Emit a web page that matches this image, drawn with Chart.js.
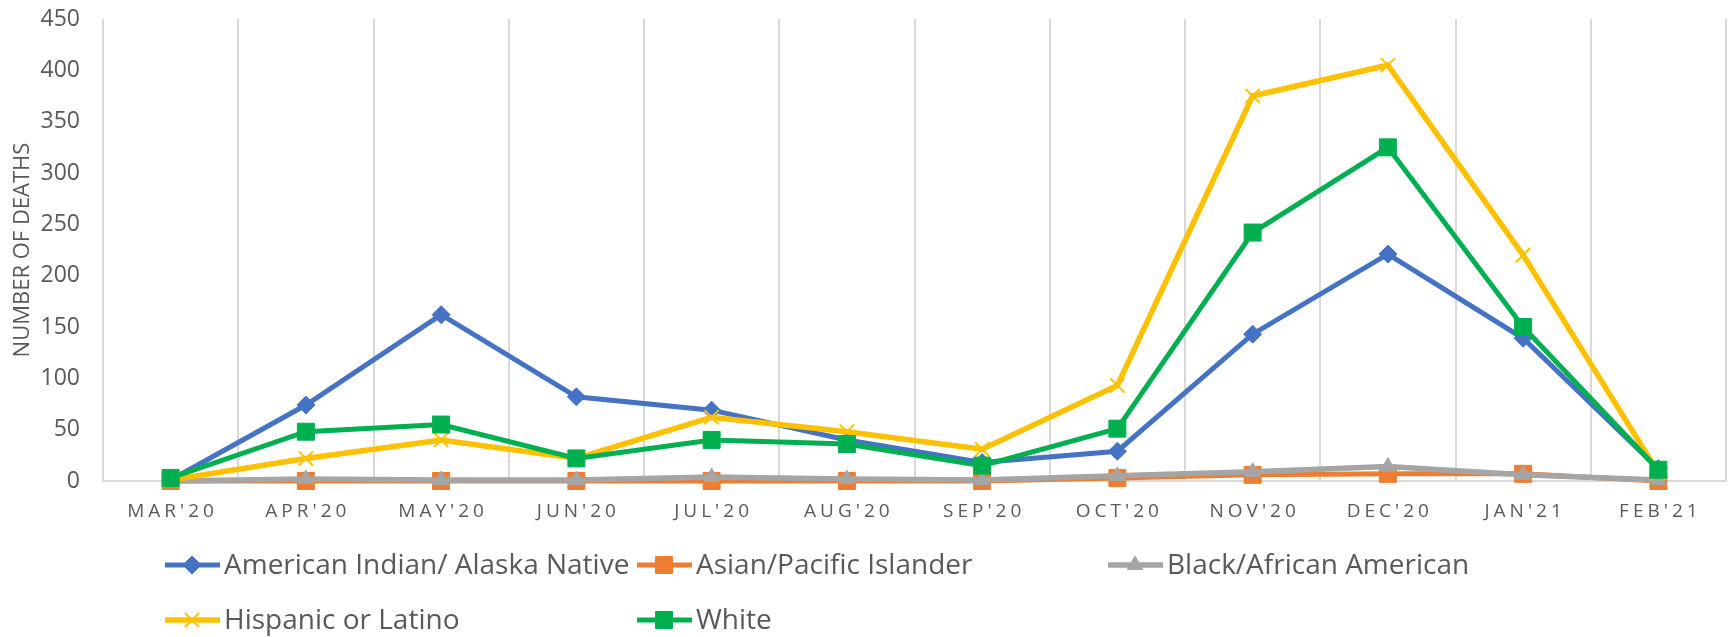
<!DOCTYPE html>
<html>
<head>
<meta charset="utf-8">
<title>Number of deaths by race/ethnicity</title>
<script src="https://cdn.jsdelivr.net/npm/chart.js@4/dist/chart.umd.min.js"></script>
<style>
  html, body { margin: 0; padding: 0; background: #fff; }
  #wrap { width: 1731px; height: 637px; }
</style>
</head>
<body>
<div id="wrap"><canvas id="deathsChart" width="1731" height="637"></canvas></div>
<script>
const months = ["MAR'20", "APR'20", "MAY'20", "JUN'20", "JUL'20", "AUG'20", "SEP'20", "OCT'20", "NOV'20", "DEC'20", "JAN'21", "FEB'21"];

const americanIndian = [1, 74, 162, 82, 69, 40, 18, 29, 143, 221, 139, 12];
const asianPacific = [0, 0, 0, 0, 0, 0, 0, 3, 6, 7, 7, 0];
const blackAfrican = [0, 2, 1, 1, 4, 2, 1, 5, 9, 14, 6, 1];
const hispanic = [1, 22, 40, 22, 62, 48, 31, 93, 375, 405, 220, 8];
const white = [3, 48, 55, 22, 40, 36, 15, 51, 242, 325, 150, 11];

const yTicks = [0, 50, 100, 150, 200, 250, 300, 350, 400, 450];

const FONT = "'Open Sans', 'Noto Sans', sans-serif";
const TEXT = '#595959';
const GRID = '#d9d9d9';

// legend slots like Excel: fixed columns, two rows
const legendSlots = [
  { x: 165, y: 565 },
  { x: 637, y: 565 },
  { x: 1108, y: 565 },
  { x: 165, y: 620 },
  { x: 637, y: 620 },
];

function series(label, data, color, style, radius, width, order) {
  return {
    label: label,
    data: data,
    borderColor: color,
    backgroundColor: color,
    borderWidth: width,
    pointStyle: style,
    pointRadius: radius,
    pointBorderWidth: style === 'crossRot' ? 2 : 1,
    pointBorderColor: color,
    pointBackgroundColor: color,
    tension: 0,
    clip: false,
    order: order,
  };
}

// x labels are letter-spaced in the original
const spacedLabels = {
  id: 'spacedLabels',
  afterUpdate(chart) {
    const sc = chart.scales.x;
    if (!sc || sc._spaced) return;
    const orig = sc.drawLabels.bind(sc);
    sc.drawLabels = function (area) {
      const c = this.ctx;
      c.save();
      c.letterSpacing = '4px';
      c.translate(2, 0);
      orig(area);
      c.restore();
    };
    sc._spaced = true;
  },
};

const gridLegend = {
  id: 'gridLegend',
  afterDraw(chart) {
    const c = chart.ctx;
    chart.data.datasets.forEach((ds, i) => {
      const slot = legendSlots[i];
      if (!slot) return;
      c.save();
      c.strokeStyle = ds.borderColor;
      c.lineWidth = ds.borderWidth;
      c.beginPath();
      c.moveTo(slot.x, slot.y);
      c.lineTo(slot.x + 55, slot.y);
      c.stroke();
      c.fillStyle = ds.backgroundColor;
      c.strokeStyle = ds.borderColor;
      c.lineWidth = ds.pointBorderWidth;
      Chart.helpers.drawPoint(c, {
        pointStyle: ds.pointStyle,
        radius: ds.pointRadius,
        borderWidth: ds.pointBorderWidth,
        rotation: 0,
      }, slot.x + 27, slot.y);
      c.fillStyle = TEXT;
      c.font = '28px ' + FONT;
      c.textAlign = 'left';
      c.textBaseline = 'middle';
      c.fillText(ds.label, slot.x + 59, slot.y + 1);
      c.restore();
    });
  },
};

new Chart(document.getElementById('deathsChart'), {
  type: 'line',
  data: {
    labels: months,
    datasets: [
      series('American Indian/ Alaska Native', americanIndian, '#4472C4', 'rectRot', 9, 5, 5),
      series('Asian/Pacific Islander', asianPacific, '#ED7D31', 'rect', 12, 5, 4),
      series('Black/African American', blackAfrican, '#A5A5A5', 'triangle', 9, 5.5, 3),
      series('Hispanic or Latino', hispanic, '#FFC000', 'crossRot', 10, 5.5, 2),
      series('White', white, '#00B050', 'rect', 12, 5, 1),
    ],
  },
  options: {
    responsive: false,
    animation: false,
    layout: { autoPadding: false, padding: { top: 19, right: 5, bottom: 106, left: 0 } },
    plugins: {
      legend: { display: false },
      tooltip: { enabled: false },
    },
    scales: {
      x: {
        offset: true,
        grid: { display: true, offset: true, color: GRID, lineWidth: 2, drawTicks: false },
        border: { display: true, color: GRID, width: 2 },
        ticks: {
          color: TEXT,
          font: { family: FONT, size: 19 },
          padding: 19,
          autoSkip: false,
          maxRotation: 0,
        },
        afterFit(scale) {
          scale.height = 50;
          scale.paddingLeft = 0;
          scale.paddingRight = 0;
        },
      },
      y: {
        min: 0,
        max: 450,
        grid: { display: false, drawTicks: false },
        border: { display: false },
        afterBuildTicks(scale) { scale.ticks = yTicks.map(v => ({ value: v })); },
        ticks: {
          color: TEXT,
          font: { family: FONT, size: 23 },
          padding: 23,
        },
        title: {
          display: true,
          text: 'NUMBER OF DEATHS',
          color: TEXT,
          font: { family: FONT, size: 22 },
          padding: { top: 10, bottom: 0 },
        },
        afterFit(scale) {
          scale.width = 103;
          scale.paddingTop = 0;
          scale.paddingBottom = 0;
        },
      },
    },
  },
  plugins: [spacedLabels, gridLegend],
});
</script>
</body>
</html>
